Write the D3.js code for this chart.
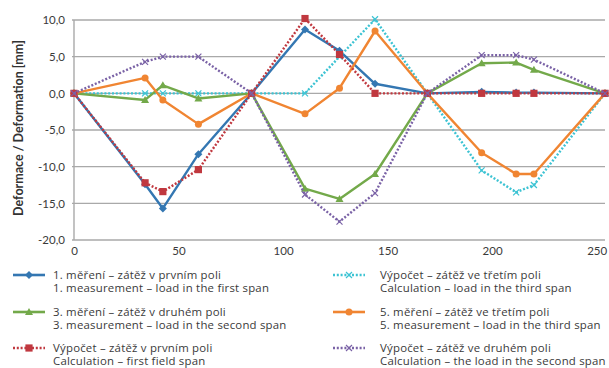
<!DOCTYPE html>
<html><head><meta charset="utf-8">
<script src="https://cdn.jsdelivr.net/npm/d3@7"></script>
<style>
html,body{margin:0;padding:0;background:#fff;}
svg{display:block;font-family:Lato,"Open Sans",sans-serif;}
</style></head>
<body>
<svg id="chart" width="609" height="368"></svg>
<script>
// positions along the bridge [m]
const positions = [0, 34, 42.5, 59.5, 85, 110.5, 127, 144, 169, 195, 211.5, 220, 254];
const xTicks = [0, 50, 100, 150, 200, 250];
const yTicks = [10, 5, 0, -5, -10, -15, -20];

const meas1 = [0, -12.4, -15.7, -8.3, 0, 8.7, 5.8, 1.3, 0, 0.2, 0.1, 0.1, 0];
const calc3 = [0, 0, 0, 0, 0, 0, 5.0, 10.1, 0, -10.5, -13.5, -12.5, 0];
const meas3 = [0, -0.9, 1.1, -0.7, 0, -13.0, -14.4, -11.0, 0, 4.1, 4.2, 3.2, 0];
const meas5 = [0, 2.1, -0.9, -4.2, 0, -2.8, 0.7, 8.5, 0, -8.1, -11.0, -11.0, 0];
const calc1 = [0, -12.2, -13.4, -10.4, 0, 10.2, 5.3, 0, 0, 0, 0, 0, 0];
const calc2 = [0, 4.3, 5.0, 5.0, 0, -13.8, -17.5, -13.6, 0, 5.2, 5.2, 4.6, 0];

const legendLabels = [
  ["1. měření – zátěž v prvním poli", "1. measurement – load in the first span"],
  ["Výpočet – zátěž ve třetím poli", "Calculation – load in the third span"],
  ["3. měření – zátěž v druhém poli", "3. measurement – load in the second span"],
  ["5. měření – zátěž ve třetím poli", "5. measurement – load in the third span"],
  ["Výpočet – zátěž v prvním poli", "Calculation – first field span"],
  ["Výpočet – zátěž ve druhém poli", "Calculation – the load in the second span"]
];

const series = [
  {values: meas1, color: "#3477b2", dotted: false, marker: "diamond"},
  {values: calc3, color: "#3cc3d3", dotted: true, marker: "x"},
  {values: meas3, color: "#73a94a", dotted: false, marker: "triangle"},
  {values: meas5, color: "#f08532", dotted: false, marker: "circle"},
  {values: calc1, color: "#c0383f", dotted: true, marker: "square"},
  {values: calc2, color: "#7a62a6", dotted: true, marker: "x"}
];

const svg = d3.select("#chart");
const x = d3.scaleLinear().domain([0, 254]).range([74, 605]);
const y = d3.scaleLinear().domain([-20, 10]).range([240, 20]);

// gridlines
svg.append("g").selectAll("line").data(yTicks).join("line")
  .attr("x1", 72).attr("x2", 605)
  .attr("y1", d => y(d)).attr("y2", d => y(d))
  .attr("stroke", "#a9a9a9").attr("stroke-width", 1.4);
svg.append("line").attr("x1", 74).attr("x2", 74).attr("y1", 20).attr("y2", 240)
  .attr("stroke", "#a9a9a9").attr("stroke-width", 1.4);

// axes labels
const fmt = d => d3.format(".1f")(d).replace(".", ",").replace("−", "-");
const yAxis = svg.append("g").attr("transform", "translate(74,0)")
  .call(d3.axisLeft(y).tickValues(yTicks).tickSize(0).tickPadding(9).tickFormat(fmt));
yAxis.select(".domain").remove();
yAxis.selectAll("text").attr("font-size", 11.5).attr("fill", "#3a3a3a").attr("font-family", "Lato");

const xAxis = svg.append("g").attr("transform", "translate(0,240)")
  .call(d3.axisBottom(x).tickValues(xTicks).tickSize(0).tickPadding(7).tickFormat(d3.format("d")));
xAxis.select(".domain").remove();
xAxis.selectAll("text").attr("font-size", 11.5).attr("fill", "#3a3a3a").attr("font-family", "Lato");

svg.append("text").attr("transform", "translate(23,128) rotate(-90)")
  .attr("text-anchor", "middle").attr("font-weight", "bold").attr("font-size", 12.5)
  .attr("fill", "#333").text("Deformace / Deformation [mm]");

function drawMarker(g, type, cx, cy, color) {
  if (type === "diamond") {
    g.append("path").attr("d", `M${cx},${cy - 4}L${cx + 4},${cy}L${cx},${cy + 4}L${cx - 4},${cy}Z`).attr("fill", color);
  } else if (type === "square") {
    g.append("rect").attr("x", cx - 3.6).attr("y", cy - 3.6).attr("width", 7.2).attr("height", 7.2).attr("fill", color);
  } else if (type === "circle") {
    g.append("circle").attr("cx", cx).attr("cy", cy).attr("r", 3.5).attr("fill", color);
  } else if (type === "triangle") {
    g.append("path").attr("d", `M${cx},${cy - 4}L${cx + 4},${cy + 3}L${cx - 4},${cy + 3}Z`).attr("fill", color);
  } else if (type === "x") {
    g.append("path").attr("d", `M${cx - 3},${cy - 3}L${cx + 3},${cy + 3}M${cx - 3},${cy + 3}L${cx + 3},${cy - 3}`)
      .attr("stroke", color).attr("stroke-width", 1.2).attr("fill", "none");
  }
}

const line = d3.line().x((d, i) => x(positions[i])).y(d => y(d));
series.forEach(s => {
  const g = svg.append("g");
  g.append("path").datum(s.values).attr("d", line)
    .attr("fill", "none").attr("stroke", s.color).attr("stroke-width", 2.4)
    .attr("stroke-dasharray", s.dotted ? "2 1.8" : null)
    .attr("stroke-linejoin", "round");
  s.values.forEach((v, i) => drawMarker(g, s.marker, x(positions[i]), y(v), s.color));
});

// legend
const legX = [13, 333], legY = [275, 312, 348];
series.forEach((s, i) => {
  const col = i % 2, row = Math.floor(i / 2);
  const g = svg.append("g").attr("transform", `translate(${legX[col]},${legY[row]})`);
  g.append("line").attr("x1", 0).attr("x2", 32).attr("y1", 0).attr("y2", 0)
    .attr("stroke", s.color).attr("stroke-width", 2.6)
    .attr("stroke-dasharray", s.dotted ? "2 1.8" : null);
  drawMarker(g, s.marker, 16, 0, s.color);
  [0, 1].forEach(k => {
    g.append("text").attr("x", 40 + (col ? 7 : 0)).attr("y", k * 13.5).attr("dy", "0.35em")
      .attr("font-family", "Open Sans").attr("font-size", 11.4).attr("letter-spacing", 0.22)
      .attr("fill", "#3a3a3a").text(legendLabels[i][k]);
  });
});
</script>
</body></html>
